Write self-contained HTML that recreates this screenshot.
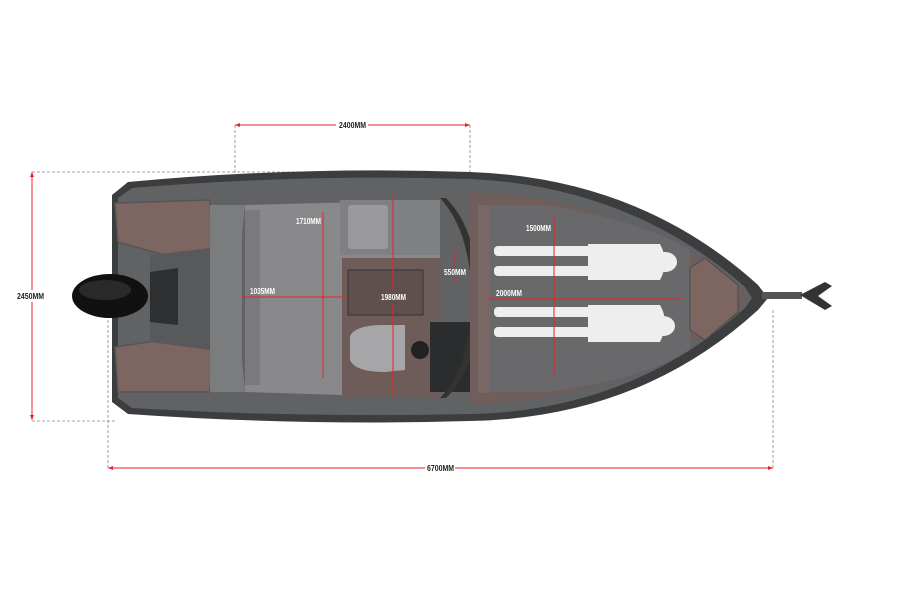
<!DOCTYPE html>
<html><head><meta charset="utf-8"><style>
html,body{margin:0;padding:0;background:#fff}
svg{display:block}
text{font-family:"Liberation Sans",sans-serif;font-weight:bold;font-size:8px;fill:#222}
.wt{fill:#fff}
.w{fill:#eee}
</style></head><body>
<svg width="900" height="600" viewBox="0 0 900 600">
<g stroke="#888" stroke-width="0.8" stroke-dasharray="3,2" fill="none">
<line x1="235" y1="125" x2="235" y2="250"/>
<line x1="470" y1="125" x2="470" y2="192"/>
<line x1="32" y1="172" x2="345" y2="172"/>
<line x1="32" y1="421" x2="115" y2="421"/>
<line x1="108" y1="300" x2="108" y2="468"/>
<line x1="773" y1="310" x2="773" y2="468"/>
</g>
<path d="M112,195 L128,182 Q300,166 470,172 Q640,178 758,285 L768,298 L758,310 Q640,418 470,421 Q300,426 128,414 L112,402 Z" fill="#3c3d3f"/>
<path d="M118,198 L132,188 Q300,174 470,179 Q630,186 745,287 L752,298 L745,308 Q630,411 470,414 Q300,418 132,408 L118,398 Z" fill="#616264"/>
<rect x="762" y="292" width="40" height="7" fill="#555"/>
<path d="M800,295 L825,282 L832,286 L818,296 L832,306 L825,310 Z" fill="#333"/>
<path d="M115,203 L210,200 L212,248 L175,258 L118,242 Z" fill="#7d6662" stroke="#555" stroke-width="1.5"/>
<path d="M115,347 L175,338 L212,350 L210,392 L118,392 Z" fill="#7d6662" stroke="#555" stroke-width="1.5"/>
<path d="M150,255 L210,248 L210,350 L150,342 Z" fill="#58595b"/>
<path d="M210,205 L245,205 L242,235 L242,360 L245,392 L210,392 Z" fill="#7b7c7e"/>
<path d="M245,205 L440,200 L440,398 L245,392 Z" fill="#89898b"/>
<path d="M245,210 L260,210 L260,385 L245,385 Z" fill="#7a7a7c"/>
<rect x="340" y="200" width="100" height="55" fill="#7f8082"/>
<rect x="348" y="205" width="40" height="44" rx="3" fill="#9a9a9c"/>
<rect x="342" y="258" width="98" height="140" fill="#6e5c58"/>
<rect x="348" y="270" width="75" height="45" fill="#5f504d" stroke="#333" stroke-width="1"/>
<path d="M350,336 Q355,325 385,325 L405,325 L405,370 L385,372 Q355,372 350,360 Z" fill="#a6a6a8"/>
<circle cx="420" cy="350" r="9" fill="#222"/>
<rect x="430" y="322" width="40" height="70" fill="#2b2c2e"/>
<path d="M440,198 Q470,230 472,298 Q470,368 440,398 L446,398 Q478,368 478,298 Q478,230 446,198 Z" fill="#333"/>
<path d="M470,192 Q620,198 740,288 L745,298 L740,308 Q620,402 470,404 Z" fill="#6f5e5a"/>
<path d="M490,205 L545,205 Q640,220 690,250 L690,350 Q640,380 545,392 L490,392 Z" fill="#69696b"/>
<path d="M690,268 L705,258 L738,285 L738,312 L705,340 L690,330 Z" fill="#7d6662" stroke="#4a4a4a" stroke-width="1"/>
<rect x="478" y="205" width="12" height="188" fill="#7a6662"/>
<g class="w">
<rect x="494" y="246" width="100" height="10" rx="4"/>
<rect x="494" y="266" width="100" height="10" rx="4"/>
<path d="M588,244 L660,244 Q670,262 660,280 L588,280 Z"/>
<ellipse cx="665" cy="262" rx="12" ry="10"/>
<rect x="494" y="307" width="100" height="10" rx="4"/>
<rect x="494" y="327" width="100" height="10" rx="4"/>
<path d="M588,305 L660,305 Q670,322 660,342 L588,342 Z"/>
<ellipse cx="663" cy="326" rx="12" ry="10"/>
</g>
<path d="M150,272 L178,268 L178,325 L150,322 Z" fill="#2e2f31"/>
<ellipse cx="110" cy="296" rx="38" ry="22" fill="#111"/>
<ellipse cx="105" cy="290" rx="26" ry="10" fill="#2a2a2c"/>
<g stroke="#e8222a" stroke-width="1" fill="#e8222a">
<line x1="235" y1="125" x2="336" y2="125"/><line x1="368" y1="125" x2="470" y2="125"/>
<line x1="32" y1="172" x2="32" y2="290"/><line x1="32" y1="302" x2="32" y2="420"/>
<line x1="108" y1="468" x2="425" y2="468"/><line x1="455" y1="468" x2="773" y2="468"/>
<line x1="323" y1="212" x2="323" y2="378"/>
<line x1="242" y1="297" x2="345" y2="297"/>
<line x1="393" y1="198" x2="393" y2="290"/><line x1="393" y1="304" x2="393" y2="396"/>
<line x1="455" y1="250" x2="455" y2="266"/><line x1="455" y1="278" x2="455" y2="283"/>
<line x1="554" y1="215" x2="554" y2="375"/>
<line x1="488" y1="299" x2="683" y2="299"/>
</g>
<g fill="#e8222a">
<path d="M235,125 l5,-2 v4z"/><path d="M470,125 l-5,-2 v4z"/>
<path d="M32,172 l-2,5 h4z"/><path d="M32,420 l-2,-5 h4z"/>
<path d="M108,468 l5,-2 v4z"/><path d="M773,468 l-5,-2 v4z"/>
</g>
<text x="339" y="128" textLength="27" lengthAdjust="spacingAndGlyphs">2400MM</text>
<text x="17" y="299" textLength="27" lengthAdjust="spacingAndGlyphs">2450MM</text>
<text x="427" y="471" textLength="27" lengthAdjust="spacingAndGlyphs">6700MM</text>
<text class="wt" x="296" y="224" textLength="25" lengthAdjust="spacingAndGlyphs">1710MM</text>
<text class="wt" x="250" y="294" textLength="25" lengthAdjust="spacingAndGlyphs">1035MM</text>
<text class="wt" x="381" y="300" textLength="25" lengthAdjust="spacingAndGlyphs">1980MM</text>
<text class="wt" x="444" y="275" textLength="22" lengthAdjust="spacingAndGlyphs">550MM</text>
<text class="wt" x="526" y="231" textLength="25" lengthAdjust="spacingAndGlyphs">1500MM</text>
<text class="wt" x="496" y="296" textLength="26" lengthAdjust="spacingAndGlyphs">2000MM</text>
</svg>
</body></html>
